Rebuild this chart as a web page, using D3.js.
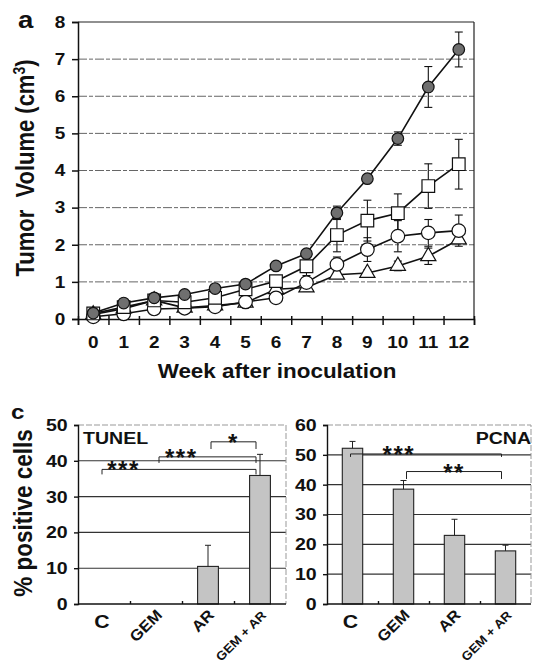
<!DOCTYPE html>
<html><head><meta charset="utf-8">
<script src="https://cdn.jsdelivr.net/npm/d3@7/dist/d3.min.js"></script>
<style>
html,body{margin:0;padding:0;background:#fff;}
svg text{font-family:"Liberation Sans",Arial,Helvetica,sans-serif;font-weight:bold;fill:#111;}
</style></head>
<body>
<svg id="chart" width="533" height="668"></svg>
<script>
// ---------- DATA ----------
const weeks = [0,1,2,3,4,5,6,7,8,9,10,11,12];
const volTicks = [0,1,2,3,4,5,6,7,8];
const filledVals  = [0.16,0.43,0.57,0.66,0.82,0.94,1.43,1.76,2.86,3.78,4.86,6.25,7.26];
const filledErr   = [0.03,0.04,0.04,0.05,0.05,0.05,0.06,0.10,0.18,0.10,0.18,0.55,0.47];
const squareVals  = [0.15,0.32,0.50,0.45,0.57,0.80,1.02,1.42,2.26,2.65,2.85,3.58,4.17];
const squareErr   = [0.03,0.05,0.05,0.05,0.08,0.10,0.15,0.25,0.45,0.55,0.52,0.60,0.67];
const circleVals  = [0.06,0.14,0.27,0.29,0.33,0.46,0.57,0.98,1.47,1.87,2.23,2.32,2.38];
const circleErr   = [0.03,0.03,0.04,0.04,0.05,0.05,0.07,0.12,0.20,0.32,0.42,0.36,0.42];
const triVals     = [0.12,0.28,0.50,0.30,0.36,0.44,0.80,0.85,1.19,1.24,1.43,1.69,2.14];
const triErr      = [0.03,0.03,0.05,0.04,0.05,0.05,0.08,0.10,0.08,0.08,0.13,0.22,0.10];

const barCats = ["C","GEM","AR","GEM + AR"];
const tunelVals = [0,0,10.5,35.9];
const tunelErr  = [0,0,5.9,5.9];
const tunelTicks = [0,10,20,30,40,50];
const pcnaVals = [52.2,38.5,23.0,17.8];
const pcnaErr  = [2.3,2.9,5.4,1.9];
const pcnaTicks = [0,10,20,30,40,50,60];
// significance brackets: from category, to category, level, drop, label, label position (fraction)
const tunelBrackets = [
  {from:0,to:3,level:37.6,drop:1.4,label:"***",at:0.14},
  {from:1,to:3,level:41.1,drop:1.7,label:"***",at:0.23},
  {from:2,to:3,level:45.3,drop:2.0,label:"*",at:0.5}
];
const pcnaBrackets = [
  {from:0,to:3,level:50.3,drop:1.0,label:"***",at:0.32},
  {from:1,to:3,level:44.4,drop:2.5,label:"**",at:0.5}
];

// ---------- DRAW ----------
const svg = d3.select("#chart");
const S = 1.15; // horizontal widening of the scanned lettering

function txt(x,y,str,size,anchor){
  return svg.append("text").attr("transform",`translate(${x},${y}) scale(${S},1)`)
    .attr("text-anchor",anchor||"start").attr("font-size",size).text(str);
}

// ===== Panel a =====
const ax = d3.scaleBand().domain(weeks).range([78,474]).padding(0);
const ay = d3.scaleLinear().domain([0,8]).range([319,22]);
const ga = svg.append("g");

ga.selectAll("line.grid").data(volTicks.filter(d=>d>0&&d<8)).join("line")
  .attr("x1",78).attr("x2",474).attr("y1",d=>ay(d)).attr("y2",d=>ay(d))
  .attr("stroke","#666").attr("stroke-width",1).attr("stroke-dasharray","9,2,4,2");
ga.append("line").attr("x1",78).attr("x2",474).attr("y1",ay(8)).attr("y2",ay(8)).attr("stroke","#222").attr("stroke-width",1.2);
ga.append("line").attr("x1",474).attr("x2",474).attr("y1",ay(8)).attr("y2",ay(0)).attr("stroke","#222").attr("stroke-width",1.2);

ga.append("g").attr("transform","translate(78,0)")
  .call(d3.axisLeft(ay).tickValues(volTicks).tickSize(6).tickPadding(5).tickFormat(d3.format("d")));
const xLin = d3.scaleLinear().domain([0,13]).range([78,474]);
ga.append("g").attr("transform","translate(0,319)")
  .call(d3.axisBottom(xLin).tickValues(d3.range(0,14)).tickSize(6).tickFormat(""))
  .call(g=>g.selectAll(".tick line").attr("y1",-3));
ga.append("g").attr("transform","translate(0,319)")
  .call(d3.axisBottom(ax).tickSize(0).tickPadding(17)).call(g=>g.select(".domain").remove());
ga.selectAll(".tick text").attr("font-size",16.5).attr("fill","#111").attr("transform",`scale(${S},1)`);
ga.selectAll(".domain,.tick line").attr("stroke","#111").attr("stroke-width",1.5);

const cx = w => ax(w)+ax.bandwidth()/2;
const series = [
  {vals:triVals, err:triErr, sym:d3.symbolTriangle, size:100, fill:"#fff"},
  {vals:circleVals, err:circleErr, sym:d3.symbolCircle, size:145, fill:"#fff"},
  {vals:squareVals, err:squareErr, sym:d3.symbolSquare, size:160, fill:"#fff"},
  {vals:filledVals, err:filledErr, sym:d3.symbolCircle, size:105, fill:"#6f6f6f"}
];
series.forEach(s=>{
  const g = ga.append("g").attr("stroke","#111").attr("stroke-width",1.1);
  weeks.forEach((w,i)=>{
    const x = cx(w), top = ay(s.vals[i]+s.err[i]), bot = ay(s.vals[i]-s.err[i]);
    g.append("line").attr("x1",x).attr("x2",x).attr("y1",top).attr("y2",bot);
    g.append("line").attr("x1",x-4).attr("x2",x+4).attr("y1",top).attr("y2",top);
    g.append("line").attr("x1",x-4).attr("x2",x+4).attr("y1",bot).attr("y2",bot);
  });
});
const line = d3.line().x((d,i)=>cx(weeks[i])).y(d=>ay(d));
series.forEach(s=>{
  ga.append("path").attr("d",line(s.vals)).attr("fill","none").attr("stroke","#111").attr("stroke-width",1.6);
});
series.forEach(s=>{
  ga.selectAll(null).data(s.vals).join("path")
    .attr("d",d3.symbol().type(s.sym).size(s.size))
    .attr("transform",(d,i)=>`translate(${cx(weeks[i])},${ay(d)})`)
    .attr("fill",s.fill).attr("stroke","#111").attr("stroke-width",1.2);
});

txt(18,28,"a",24,"start");
const yl = svg.append("text").attr("transform","translate(34,168) rotate(-90) scale(1,1.15)").attr("text-anchor","middle").attr("font-size",22);
yl.append("tspan").text("Tumor\u00a0 Volume (cm");
yl.append("tspan").attr("font-size",14).attr("dy",-8).text("3");
yl.append("tspan").attr("dy",8).text(")");
txt(277,378,"Week after inoculation",19.5,"middle");

// ===== Panel c =====
txt(11,419,"c",21,"start");
svg.append("text").attr("transform","translate(32,513) rotate(-90) scale(1,1.12)").attr("text-anchor","middle").attr("font-size",22.5).text("% positive cells");

function barPanel(opts){
  const {x0,x1,y0,y1,max,ticks,vals,errs,brackets,title,titleX,titleAnchor} = opts;
  const x = d3.scaleBand().domain(barCats).range([x0,x1]);
  const y = d3.scaleLinear().domain([0,max]).range([y0,y1]);
  const g = svg.append("g");
  g.selectAll(null).data(ticks.filter(d=>d>0&&d<max)).join("line")
    .attr("x1",x0).attr("x2",x1).attr("y1",d=>y(d)).attr("y2",d=>y(d))
    .attr("stroke","#333").attr("stroke-width",1.1);
  g.append("path").attr("d",`M${x0},${y(max)}H${x1}V${y(0)}`).attr("fill","none")
    .attr("stroke","#999").attr("stroke-width",1).attr("stroke-dasharray","6,2");
  const bw = x.bandwidth()*0.4;
  const bcx = c => x(c)+x.bandwidth()/2;
  g.selectAll(null).data(vals).join("rect")
    .attr("x",(d,i)=>bcx(barCats[i])-bw/2).attr("width",bw)
    .attr("y",d=>y(d)).attr("height",d=>y(0)-y(d))
    .attr("fill",(d)=>d>0?"#c4c4c4":"none").attr("stroke",(d)=>d>0?"#222":"none").attr("stroke-width",1.1);
  vals.forEach((v,i)=>{
    if(errs[i]<=0) return;
    const xc = bcx(barCats[i]), t = y(v+errs[i]);
    g.append("line").attr("x1",xc).attr("x2",xc).attr("y1",y(v)).attr("y2",t).attr("stroke","#222");
    g.append("line").attr("x1",xc-3).attr("x2",xc+3).attr("y1",t).attr("y2",t).attr("stroke","#222");
  });
  const ya = g.append("g").attr("transform",`translate(${x0},0)`)
    .call(d3.axisLeft(y).tickValues(ticks).tickSize(4).tickPadding(5));
  const xl = d3.scaleLinear().domain([0,4]).range([x0,x1]);
  const xa = g.append("g").attr("transform",`translate(0,${y0})`)
    .call(d3.axisBottom(xl).tickValues([1,2,3]).tickSize(-3).tickFormat(""));
  g.selectAll(".domain,.tick line").attr("stroke","#111").attr("stroke-width",1.4);
  ya.selectAll("text").attr("font-size",17).attr("fill","#111").attr("transform",`scale(${S},1)`);
  xa.select(".domain").attr("d",`M${x0},0H${x1}`);
  barCats.forEach((c,i)=>{
    const xc = bcx(c);
    if(i===0){
      g.append("text").attr("transform",`translate(${xc-2},${y0+24}) scale(${S},1)`).attr("text-anchor","middle").attr("font-size",18.5).text(c);
    } else {
      g.append("text").attr("transform",`translate(${xc+7},${y0+12}) rotate(-45) scale(1.08,1)`)
        .attr("text-anchor","end").attr("font-size",i===3?12.5:15.5).text(c);
    }
  });
  brackets.forEach(b=>{
    const xa1 = bcx(barCats[b.from]) + (b.from===0? -2: 3);
    const xa2 = bcx(barCats[b.to]) - 4;
    const yl = y(b.level), yd = y(b.level-b.drop);
    g.append("path").attr("d",`M${xa1},${yd}V${yl}H${xa2}V${yd}`).attr("fill","none").attr("stroke","#222").attr("stroke-width",1);
    g.append("text").attr("x",xa1+(xa2-xa1)*b.at).attr("y",yl+9).attr("text-anchor","middle")
      .attr("font-size",24).attr("letter-spacing",1.5).attr("font-weight","normal").text(b.label);
  });
  g.append("text").attr("transform",`translate(${titleX},${y1+19}) scale(${S},1)`).attr("text-anchor",titleAnchor).attr("font-size",17).text(title);
}
barPanel({x0:78,x1:286,y0:604,y1:425,max:50,ticks:tunelTicks,vals:tunelVals,errs:tunelErr,brackets:tunelBrackets,title:"TUNEL",titleX:83,titleAnchor:"start"});
barPanel({x0:327,x1:531,y0:604,y1:425,max:60,ticks:pcnaTicks,vals:pcnaVals,errs:pcnaErr,brackets:pcnaBrackets,title:"PCNA",titleX:531,titleAnchor:"end"});
</script>
</body></html>
